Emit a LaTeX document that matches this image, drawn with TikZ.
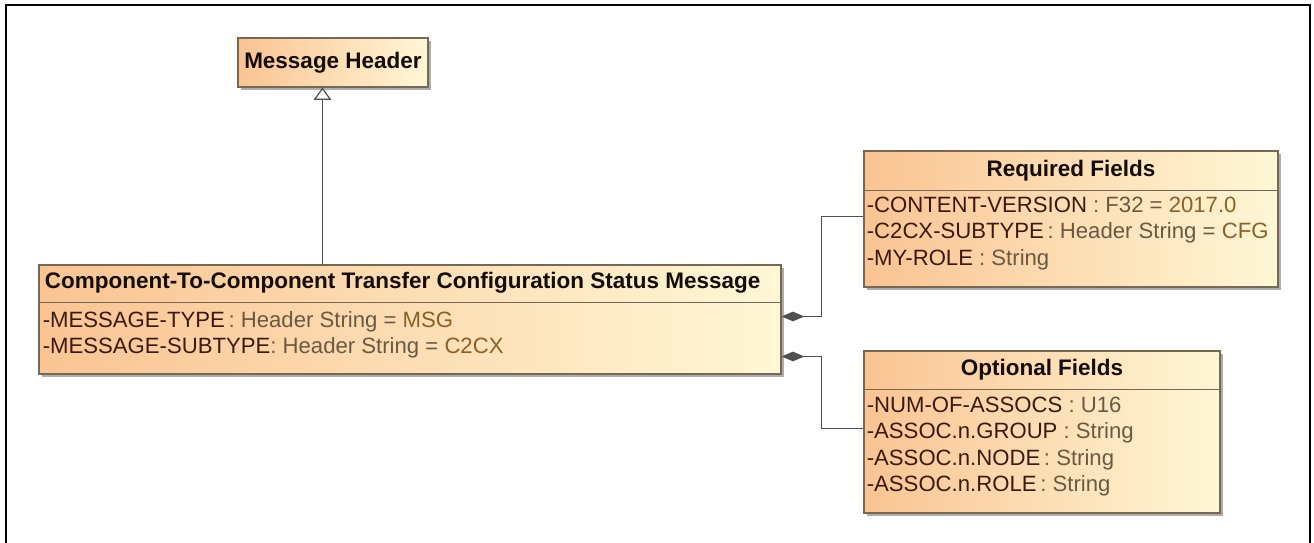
\documentclass[tikz,border=0pt]{standalone}
\usepackage{fontspec}
\setmainfont{Liberation Sans}
\usetikzlibrary{shapes, arrows.meta, shadows, calc, positioning, fit}
\definecolor{umlorange}{RGB}{250,196,146}
\definecolor{umlcream}{RGB}{255,247,214}
\definecolor{umlborder}{RGB}{118,104,82}
\definecolor{umlline}{RGB}{80,80,80}
\definecolor{attrname}{RGB}{58,26,16}
\definecolor{attrtype}{RGB}{104,90,66}
\definecolor{attrval}{RGB}{140,96,36}

\newcommand{\umlattr}[3]{\textcolor{attrname}{#1}\textcolor{attrtype}{:~#2}#3}
\newcommand{\umlval}[1]{\textcolor{attrtype}{~=~}\textcolor{attrval}{#1}}

\begin{document}
\begin{tikzpicture}[x=0.02cm, y=-0.02cm,
    umlbox/.style={draw=umlborder, line width=0.6pt, left color=umlorange, right color=umlcream,
        inner sep=0pt, drop shadow={shadow xshift=1.6pt, shadow yshift=-1.6pt, fill=black!40, opacity=0.8}},
    umltitle/.style={font=\fontsize{12.8}{15}\selectfont\bfseries, text=black!90!brown, inner sep=0pt},
    umlattrs/.style={font=\fontsize{12.6}{15}\selectfont, align=left, anchor=west, inner sep=0pt},
    umlsep/.style={draw=umlborder, line width=0.6pt},
    compo/.style={draw=umlline, line width=0.7pt, {Diamond[length=13pt, width=5.5pt, fill=umlline]}-},
    gen/.style={draw=umlline, line width=0.7pt, -{Triangle[open, length=7pt, width=10pt, fill=white]}}]

    \useasboundingbox (0,0) rectangle (1314,542);
    \draw[line width=1.2pt] (6,548) -- (6,5) -- (1310,5) -- (1310,548);

    % classes
    \node[umlbox, fit={(238,38) (428,87)}] (hdr) {};
    \node[umltitle] at (hdr.center) {Message Header};

    \node[umlbox, fit={(39,265) (781,374)}] (main) {};
    \draw[umlsep] ($(main.north west)+(0,38)$) -- ($(main.north east)+(0,38)$);
    \node[umltitle, anchor=west] at ($(main.north west)+(6,18)$)
        {Component-To-Component Transfer Configuration Status Message};
    \node[umlattrs] at ($(main.north west)+(4,70)$)
        {\umlattr{-MESSAGE-TYPE\,}{Header String}{\umlval{MSG}}\\
         \umlattr{-MESSAGE-SUBTYPE}{Header String}{\umlval{C2CX}}};

    \node[umlbox, fit={(864,151) (1278,287)}] (req) {};
    \draw[umlsep] ($(req.north west)+(0,40)$) -- ($(req.north east)+(0,40)$);
    \node[umltitle] at ($(req.north)+(0,20)$) {Required Fields};
    \node[umlattrs] at ($(req.north west)+(3,83)$)
        {\umlattr{-CONTENT-VERSION\ }{F32}{\umlval{2017.0}}\\
         \umlattr{-C2CX-SUBTYPE\,}{Header String}{\umlval{CFG}}\\
         \umlattr{-MY-ROLE\ }{String}{}};

    \node[umlbox, fit={(864,351) (1220,513)}] (opt) {};
    \draw[umlsep] ($(opt.north west)+(0,39)$) -- ($(opt.north east)+(0,39)$);
    \node[umltitle] at ($(opt.north)+(0,19)$) {Optional Fields};
    \node[umlattrs] at ($(opt.north west)+(3,96)$)
        {\umlattr{-NUM-OF-ASSOCS\ }{U16}{}\\
         \umlattr{-ASSOC.n.GROUP\ }{String}{}\\
         \umlattr{-ASSOC.n.NODE\,}{String}{}\\
         \umlattr{-ASSOC.n.ROLE\,}{String}{}};

    % connectors
    \coordinate (genfoot) at ($(main.north west)+(284,0)$);
    \draw[gen] (genfoot) -- (genfoot |- hdr.south);

    \coordinate (reqport) at ($(main.north east)+(0,52)$);
    \coordinate (reqin) at ($(req.north west)+(0,66)$);
    \draw[compo] (reqport) -- ++(40,0) |- (reqin);

    \coordinate (optport) at ($(main.north east)+(0,92)$);
    \coordinate (optin) at ($(opt.north west)+(0,78)$);
    \draw[compo] (optport) -- ++(40,0) |- (optin);
\end{tikzpicture}
\end{document}
